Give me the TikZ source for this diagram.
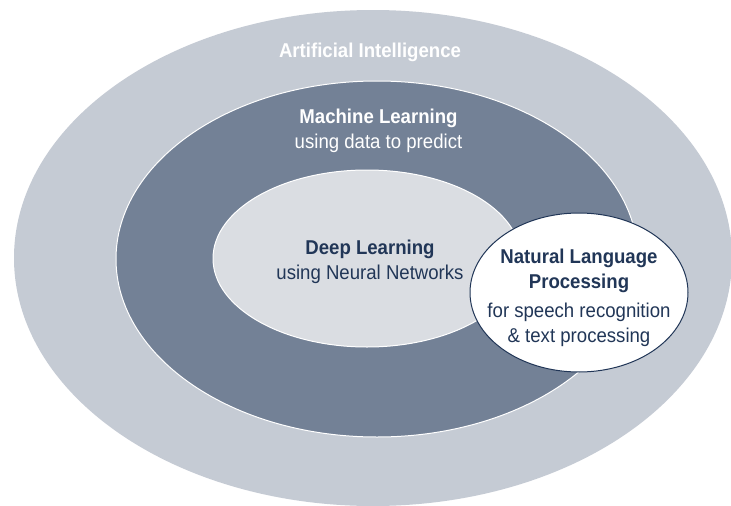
\documentclass[tikz,border=0pt]{standalone}
\usepackage{fontspec}
\setmainfont{Liberation Sans}[FakeStretch=0.93]
\usepackage{tikz}
\usetikzlibrary{shapes.geometric,positioning}

\definecolor{aigray}{HTML}{C5CBD4}
\definecolor{mlslate}{HTML}{738196}
\definecolor{dlmist}{HTML}{DADDE2}
\definecolor{navy}{HTML}{213657}

\begin{document}
\begin{tikzpicture}[x=1pt,y=-1pt,node distance=25pt,
                    every node/.style={inner sep=0pt,text height=14.5pt,text depth=4.5pt,
                      font=\fontsize{20pt}{25pt}\selectfont}]
  \tikzstyle{field}=[ellipse,line width=1pt]
  \tikzstyle{title}=[font=\fontsize{20pt}{25pt}\selectfont\bfseries]
  \tikzstyle{note}=[font=\fontsize{20pt}{25pt}\selectfont]

  \fill[white] (0,0) rectangle (731,506);
  \useasboundingbox (0,0) rectangle (731,506);

  % nested fields, largest first
  \node[field,fill=aigray,minimum width=718pt,minimum height=496pt]           (ai)  at (373,258)   {};
  \node[field,fill=mlslate,draw=white,minimum width=522pt,minimum height=356pt] (ml)  at (377,259)   {};
  \node[field,fill=dlmist,draw=white,minimum width=308pt,minimum height=177pt]  (dl)  at (367,258.5) {};
  \node[field,fill=white,draw=navy,minimum width=218pt,minimum height=159pt]    (nlp) at (579,292.5) {};

  % labels
  \node[title,text=white] (aiName) at (370,52) {Artificial Intelligence};

  \node[title,text=white] (mlName) at (378.5,118)  {Machine Learning};
  \node[note,text=white]  (mlUse)  [below of=mlName] {using data to predict};

  \node[title,text=navy]  (dlName) at (370,249)    {Deep Learning};
  \node[note,text=navy]   (dlUse)  [below of=dlName] {using Neural Networks};

  \node[title,text=navy]  (nlpName)  at (579,258)  {Natural Language};
  \node[title,text=navy]  (nlpName2) [below of=nlpName] {Processing};
  \node[note,text=navy]   (nlpUse)   [below of=nlpName2,node distance=29pt] {for speech recognition};
  \node[note,text=navy]   (nlpUse2)  [below of=nlpUse] {\& text processing};
\end{tikzpicture}
\end{document}
